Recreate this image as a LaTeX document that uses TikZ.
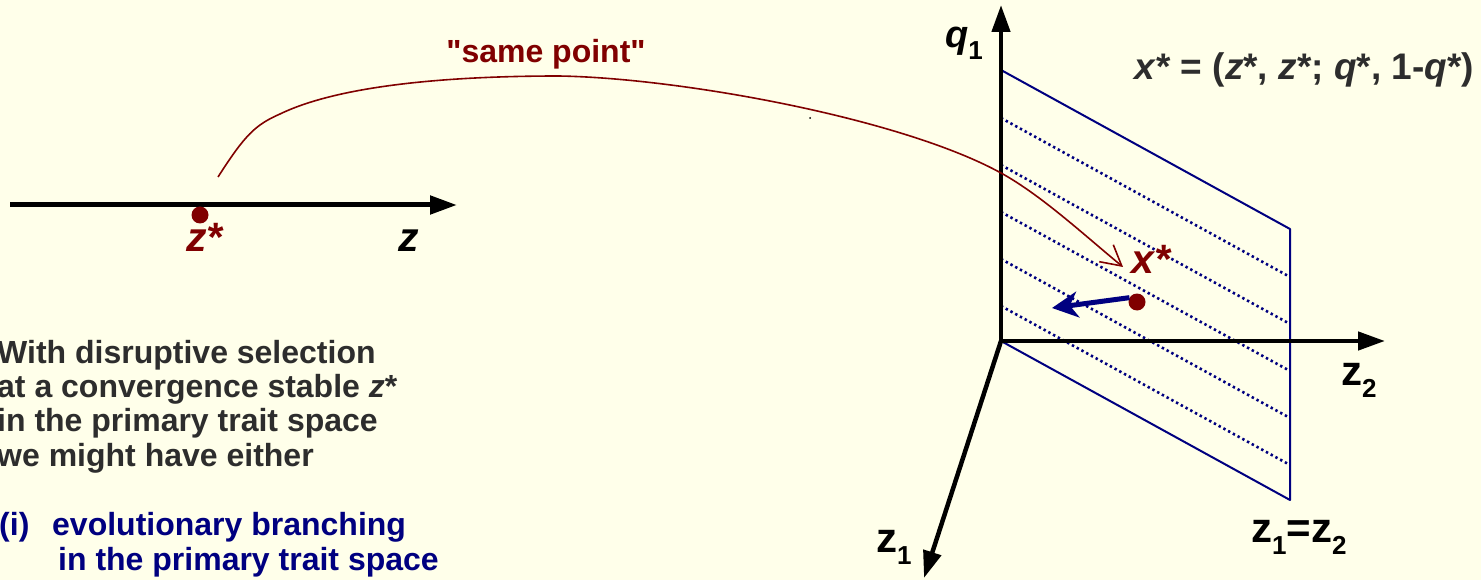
\documentclass[tikz,border=0pt]{standalone}
\usepackage{fontspec}
\setmainfont{Liberation Sans}
\usepackage{tikz}
\usetikzlibrary{arrows.meta,positioning}
\definecolor{bgyellow}{RGB}{255,255,234}
\definecolor{darkred}{RGB}{128,0,0}
\definecolor{navyblue}{RGB}{0,0,128}
\definecolor{textgray}{RGB}{45,45,45}
\newcommand{\fsz}[2]{\fontsize{#1}{#2}\selectfont}
\newcommand{\lowsub}[1]{\raisebox{-12pt}{\fontsize{26}{26}\selectfont #1}}

\begin{document}
\begin{tikzpicture}[x=1pt, y=-1pt,
    every node/.style={font=\bfseries, inner sep=0pt},
    axis/.style={line width=4.5pt, -{Triangle[length=27pt,width=18pt]}},
    plane/.style={navyblue, line width=2pt, line join=round},
    hatch/.style={navyblue, line width=2.6pt, dash pattern=on 2.4pt off 3pt},
    ptdot/.style={circle, fill=darkred, minimum size=17pt, inner sep=0pt},
    axlabel/.style={anchor=base west, font=\bfseries\fsz{42}{42}},
    ptlabel/.style={darkred, anchor=base west, font=\bfseries\itshape\fsz{41}{41}}]
    \fill[bgyellow] (0,0) rectangle (1481,580);
    \useasboundingbox (0,0) rectangle (1481,580);

    % primary trait axis
    \coordinate (zl) at (10,205);
    \coordinate (zr) at (457,205);
    \draw[axis, line width=5pt] (zl) -- (zr);
    \node[ptdot] (zdot) at (200,215) {};
    \node[ptlabel] (zstar) at (186,252) {z*};
    \node[ptlabel, black] (zlab) at (398,252) {z};

    % plane z1=z2
    \coordinate (O) at (1001,341);
    \coordinate (pa) at (1001,70);
    \coordinate (pb) at (1290,229);
    \coordinate (pc) at (1290,500);
    \draw[plane] (O) -- (pa) -- (pb) -- (pc) -- cycle;
    \foreach \y in {118,165,212,259,306}
        \draw[hatch] (1001,\y) -- (1290,{\y+159});

    % 3d axes
    \coordinate (qtip) at (1001,5);
    \coordinate (ztwotip) at (1385,341);
    \coordinate (zonetip) at (924,578);
    \draw[axis] ([yshift=-2.25pt]O) -- (qtip);
    \draw[axis] (O) -- (ztwotip);
    \draw[axis] (O) -- (zonetip);
    \node[axlabel, font=\bfseries\fsz{38}{38}] (qlab) at (945,48) {\textit{q}\lowsub{1}};
    \node[axlabel] (ztwolab) at (1341,385) {z\lowsub{2}};
    \node[axlabel] (zonelab) at (876,552) {z\lowsub{1}};
    \node[axlabel] (diaglab) at (1251,542) {z\lowsub{1}=z\lowsub{2}};

    % equilibrium point
    \node[textgray, anchor=base east, font=\bfseries\fsz{37}{37}] (xeq) at (1474,80)
        {\textit{x}* = (\textit{z}*, \textit{z}*; \textit{q}*, 1-\textit{q}*)};
    \node[ptdot] (xdot) at (1137,302) {};
    \node[ptlabel] (xlab) at (1131,273) {x*};
    \coordinate (brtip) at (1052,308);
    \draw[navyblue, line width=5pt, -{Stealth[length=26pt,width=26pt,inset=8pt]}] (xdot.150) -- (brtip);

    % "same point" connector
    \coordinate (spstart) at (218,177);
    \coordinate (spend) at (1123,267);
    \draw[darkred, line width=1.6pt, -{Straight Barb[length=20pt,width=22pt]}] (spstart)
        .. controls (245,135) and (255,125) .. (280,114)
        .. controls (340,85) and (450,76) .. (559,76)
        .. controls (680,78) and (901,118) .. (1001,173)
        .. controls (1041,195) and (1083,234) .. (spend);
    \node[darkred, anchor=base, font=\bfseries\fsz{32}{32}] (sptext) at (546,63) {\textquotedbl same point\textquotedbl};
    \fill (810,118) circle (1pt);

    % text
    \node[textgray, align=left, anchor=north west, font=\bfseries\fsz{32}{34.3}] (claim) at (-3,340)
        {With disruptive selection\\at a convergence stable \textit{z}*\\in the primary trait space\\we might have either};
    \node[navyblue, align=left, anchor=north west, font=\bfseries\fsz{32}{35}] (branch) at (-1,512)
        {\makebox[53pt][l]{(i)}evolutionary branching\\\hspace*{59pt}in the primary trait space};
\end{tikzpicture}
\end{document}
